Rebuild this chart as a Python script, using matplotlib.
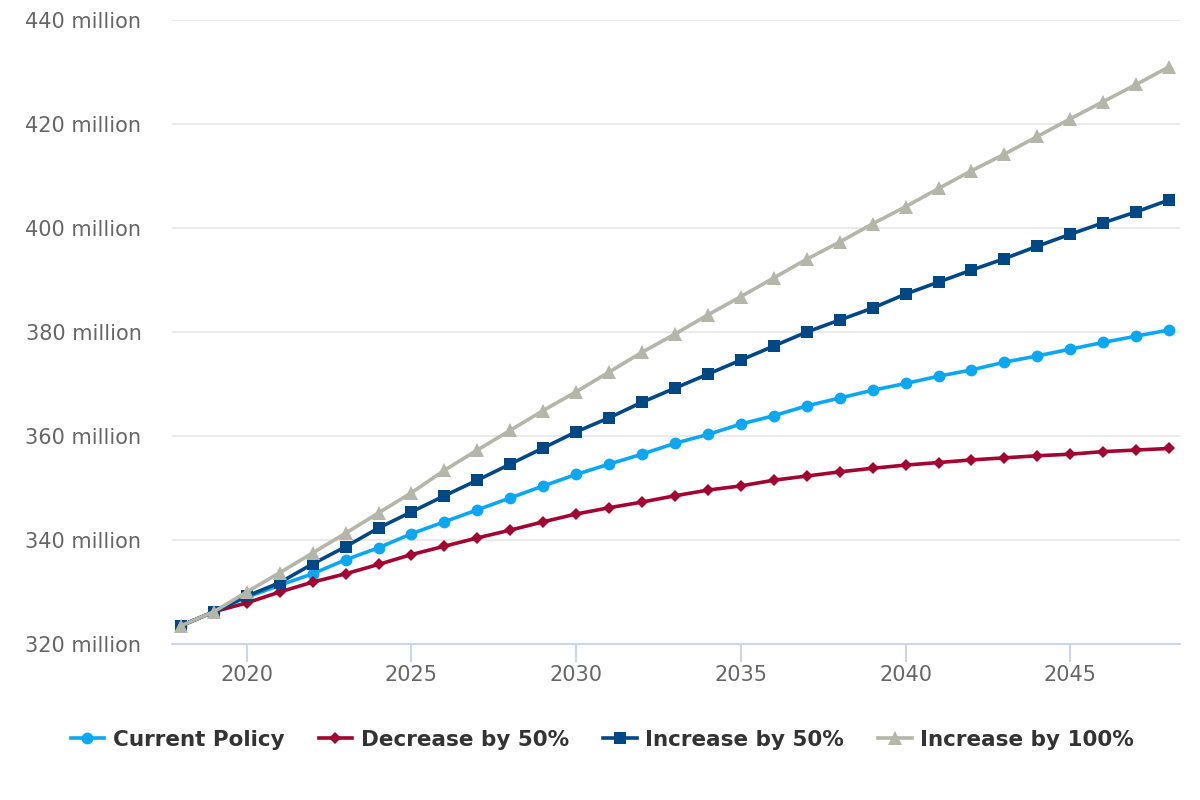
import matplotlib.pyplot as plt
from matplotlib.ticker import FuncFormatter

plt.rcParams['font.family'] = ['DejaVu Sans']

years = list(range(2018, 2049))

current_policy = [323.5, 326.2, 329.0, 331.3, 333.5, 336.2, 338.5, 341.2, 343.5, 345.8,
                  348.1, 350.4, 352.6, 354.6, 356.5, 358.6, 360.3, 362.3, 363.9, 365.8,
                  367.3, 368.8, 370.1, 371.5, 372.7, 374.2, 375.4, 376.7, 378.0, 379.2,
                  380.4]
decrease_50 = [323.5, 326.2, 327.9, 330.0, 331.9, 333.5, 335.3, 337.2, 338.8, 340.4,
               341.9, 343.5, 345.0, 346.2, 347.3, 348.5, 349.6, 350.4, 351.5, 352.3,
               353.1, 353.8, 354.4, 354.9, 355.4, 355.8, 356.2, 356.5, 357.0, 357.3,
               357.6]
increase_50 = [323.5, 326.2, 329.2, 331.8, 335.4, 338.7, 342.3, 345.4, 348.5, 351.5,
               354.6, 357.7, 360.8, 363.5, 366.5, 369.2, 371.9, 374.6, 377.3, 380.0,
               382.3, 384.6, 387.3, 389.6, 391.9, 394.1, 396.5, 398.8, 401.0, 403.1,
               405.4]
increase_100 = [323.5, 326.2, 330.0, 333.7, 337.5, 341.3, 345.2, 349.1, 353.4, 357.3,
                361.1, 364.9, 368.5, 372.3, 376.1, 379.6, 383.3, 386.8, 390.4, 394.0,
                397.3, 400.8, 404.1, 407.6, 411.0, 414.2, 417.6, 421.0, 424.3, 427.6,
                431.0]

series = [
    ("Current Policy", current_policy, "#0ba7f2", "o", 8.5),
    ("Decrease by 50%", decrease_50, "#a30431", "D", 6.5),
    ("Increase by 50%", increase_50, "#004885", "s", 8.5),
    ("Increase by 100%", increase_100, "#b3b6a8", "^", 9.5),
]

fig = plt.figure(figsize=(12, 8), dpi=100)
ax = fig.add_axes([0.1433, 0.195, 0.84, 0.78])

for name, vals, col, mk, ms in series:
    ax.plot(years, vals, color=col, lw=2.6, marker=mk, markersize=ms,
            markeredgewidth=0, label=name)

ax.set_xlim(2017.73, 2048.33)
ax.set_ylim(320, 440)
ax.set_yticks(range(320, 441, 20))
ax.set_xticks(range(2020, 2046, 5))
ax.yaxis.set_major_formatter(FuncFormatter(lambda v, p: f"{int(v)} million"))

ax.grid(axis='y', color='#e6e6e6', lw=1.2)
ax.set_axisbelow(True)
for s in ['top', 'right', 'left']:
    ax.spines[s].set_visible(False)
ax.spines['bottom'].set_color('#ccd6eb')
ax.spines['bottom'].set_linewidth(1.5)

ax.tick_params(axis='y', length=0, pad=22, labelsize=15, labelcolor='#666666')
ax.tick_params(axis='x', length=13, width=1.5, color='#ccd6eb', pad=2,
               labelsize=15, labelcolor='#666666')

leg = fig.legend(loc='center', bbox_to_anchor=(0.502, 0.075), ncol=4, frameon=False,
                 handlelength=1.55, columnspacing=1.6, handletextpad=0.4,
                 prop={'size': 15.5, 'weight': 'bold'})
for t in leg.get_texts():
    t.set_color('#333333')

fig.savefig('out.png', dpi=100)
